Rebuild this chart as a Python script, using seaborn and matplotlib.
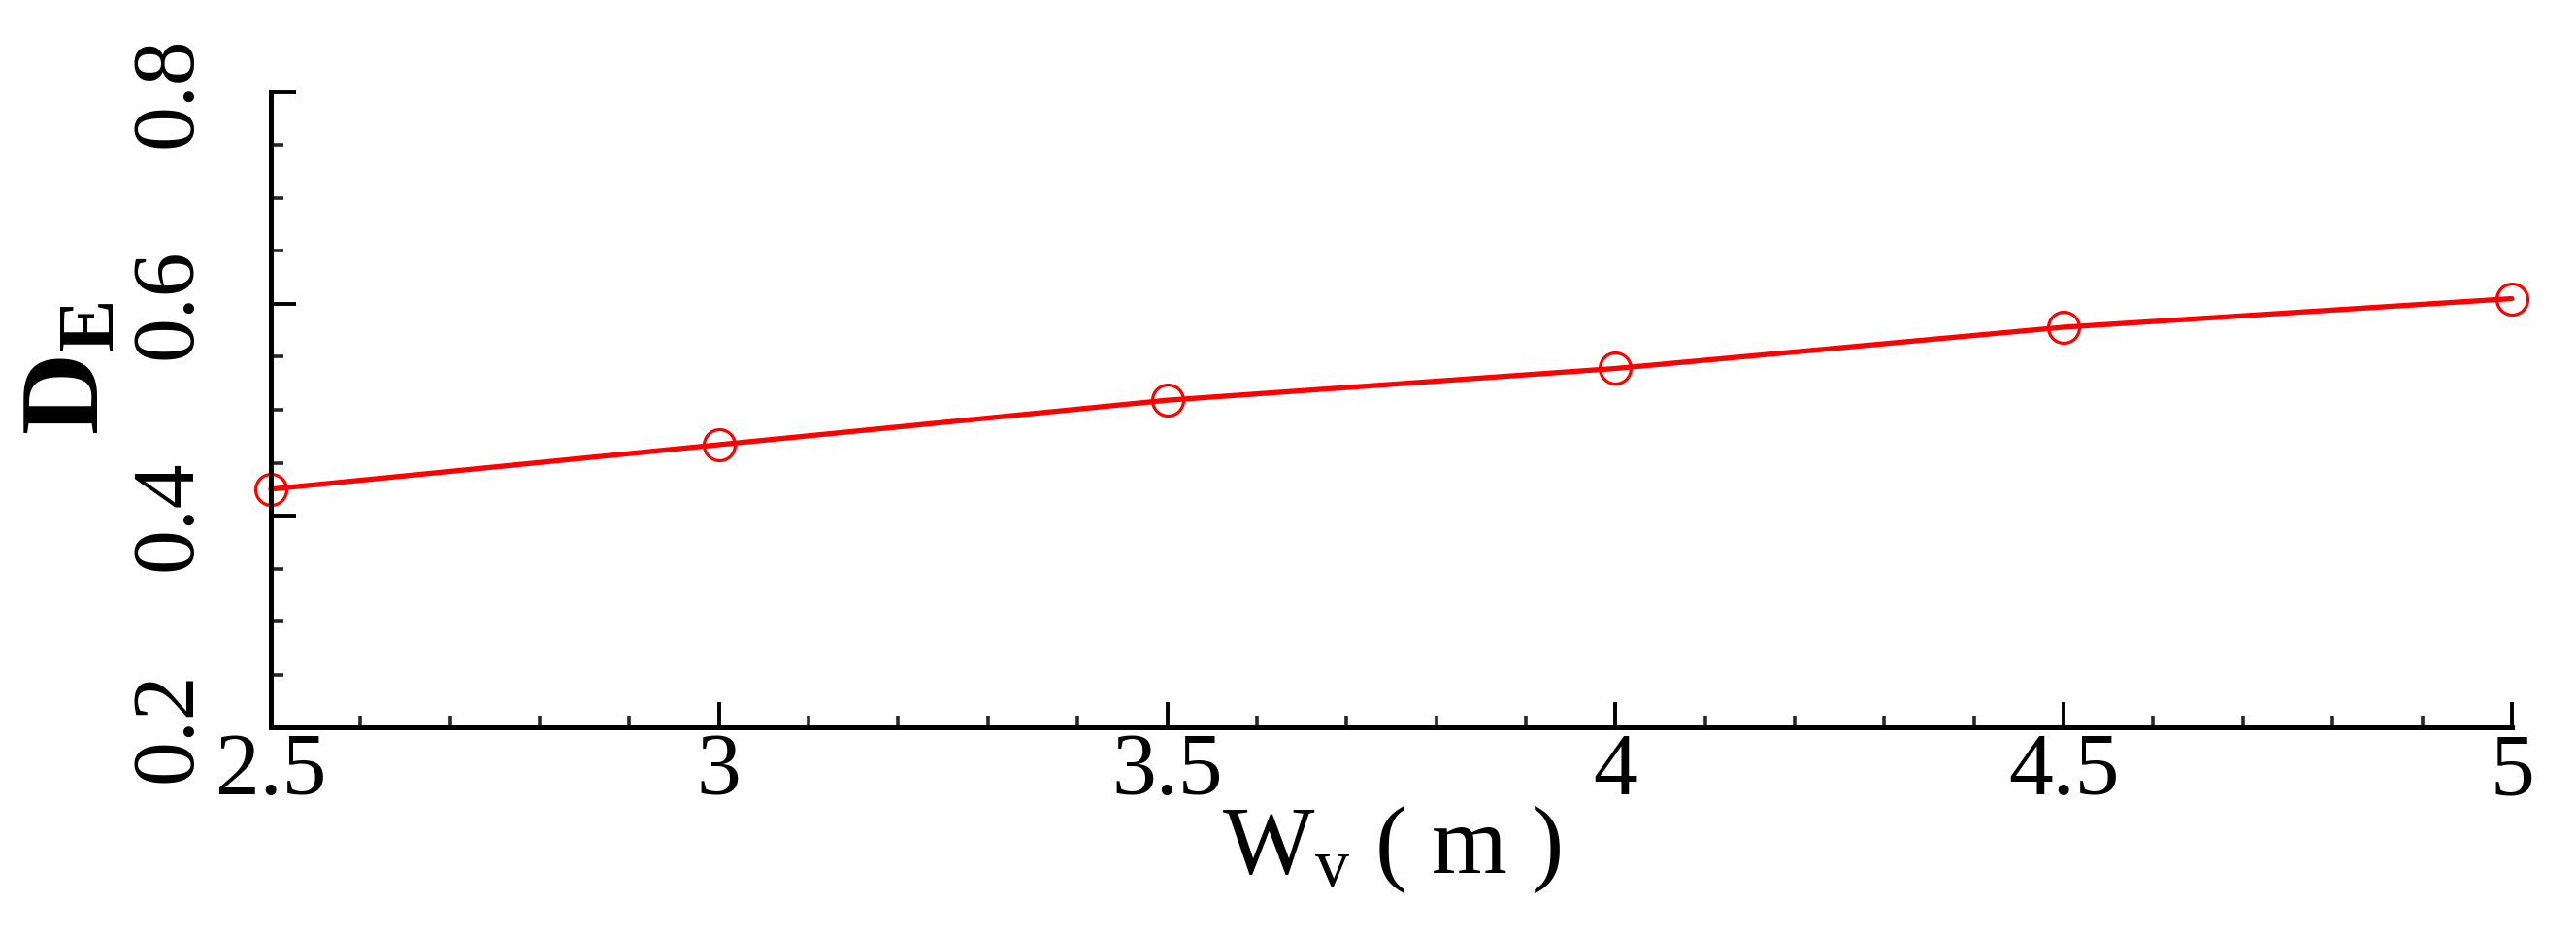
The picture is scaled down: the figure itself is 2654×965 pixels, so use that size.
import matplotlib
matplotlib.use("Agg")
import matplotlib.pyplot as plt
from matplotlib.ticker import MultipleLocator
import seaborn as sns
import pandas as pd

# data
width_m = [2.5, 3.0, 3.5, 4.0, 4.5, 5.0]
d_e = [0.425, 0.467, 0.509, 0.539, 0.578, 0.605]

x_ticks = [2.5, 3, 3.5, 4, 4.5, 5]
x_tick_labels = ["2.5", "3", "3.5", "4", "4.5", "5"]
y_ticks = [0.2, 0.4, 0.6, 0.8]
y_tick_labels = ["0.2", "0.4", "0.6", "0.8"]

sns.set_style("ticks")
plt.rcParams["font.family"] = ["Liberation Serif", "DejaVu Serif"]
plt.rcParams["mathtext.fontset"] = "custom"
plt.rcParams["mathtext.rm"] = "Liberation Serif"
plt.rcParams["mathtext.it"] = "Liberation Serif"
plt.rcParams["mathtext.bf"] = "Liberation Serif:bold"

df = pd.DataFrame({"W": width_m, "D": d_e})

fig = plt.figure(figsize=(26.54, 9.65), dpi=100)
ax = fig.add_axes([0.1051, 0.2238, 0.8700, 0.6778])

sns.lineplot(data=df, x="W", y="D", ax=ax, color="#ff0000", linewidth=3.8,
             marker="o", markersize=23, markerfacecolor="none",
             markeredgecolor="#ff0000", markeredgewidth=2.3, clip_on=False)

ax.set_xlim(2.5, 5)
ax.set_ylim(0.2, 0.8)
ax.set_xticks(x_ticks)
ax.set_xticklabels(x_tick_labels)
ax.set_yticks(y_ticks)
ax.set_yticklabels(y_tick_labels, rotation=90, va="center")
ax.xaxis.set_minor_locator(MultipleLocator(0.1))
ax.yaxis.set_minor_locator(MultipleLocator(0.05))

sns.despine(ax=ax)
for s in ["left", "bottom"]:
    ax.spines[s].set_linewidth(3.6)
    ax.spines[s].set_color("black")

ax.tick_params(which="major", direction="in", length=19, width=2.8,
               labelsize=66, colors="black")
ax.tick_params(which="minor", direction="in", length=9, width=2.6)
ax.tick_params(axis="x", which="major", pad=4)
ax.tick_params(axis="y", which="major", pad=46)

ax.set_xlabel(r"$\mathrm{W_v}$ ( m )", fontsize=72, color="black")
ax.xaxis.set_label_coords(0.5, -0.12)
ax.set_ylabel(r"$\mathbf{D_E}$", fontsize=84, color="black")
ax.yaxis.set_label_coords(-0.089, 0.565)
ax.yaxis.label.set_va("center")
ax.xaxis.label.set_va("top")

fig.savefig("out.png", dpi=100, facecolor="white")
